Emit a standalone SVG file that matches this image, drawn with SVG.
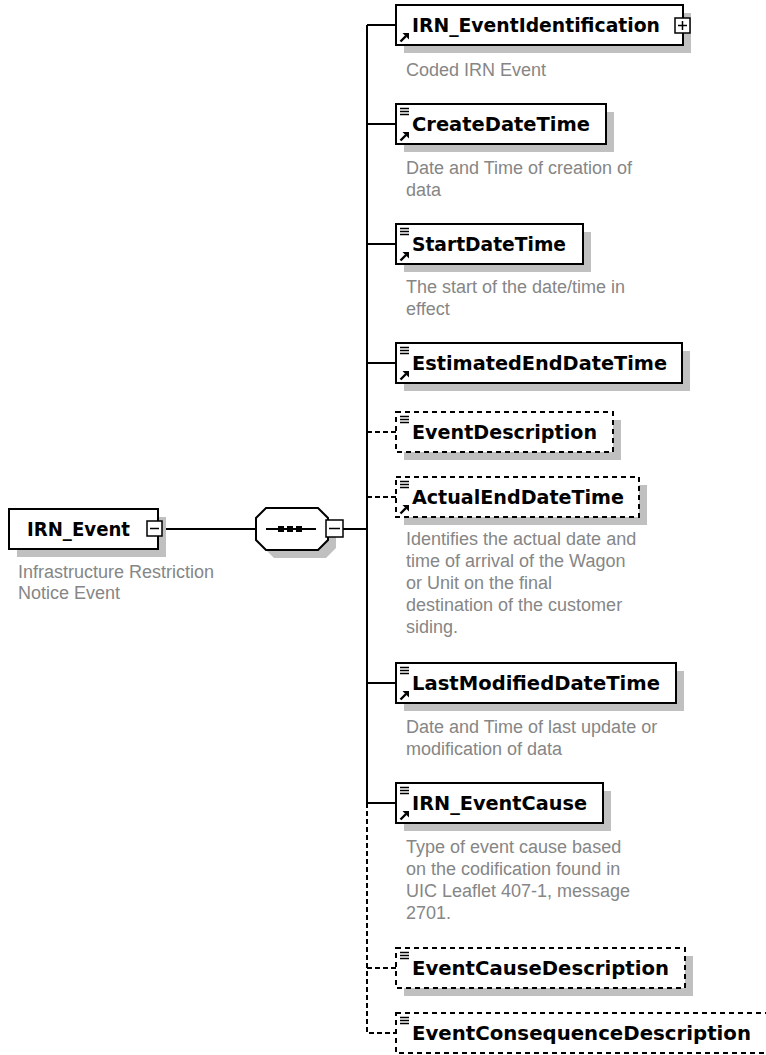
<svg xmlns="http://www.w3.org/2000/svg" xmlns:xlink="http://www.w3.org/1999/xlink" width="766" height="1055" viewBox="0 0 766 1055">
<style>
.box{fill:#fff;stroke:#000;stroke-width:2}
.dbox{fill:#fff;stroke:#000;stroke-width:2;stroke-dasharray:5 4}
.shadow{fill:#c0c0c0}
.name{font-family:"DejaVu Sans",Verdana,sans-serif;font-weight:bold;font-size:20px;fill:#000}
.desc{font-family:"Liberation Sans",Arial,sans-serif;font-size:18px;fill:#868686}
.line{stroke:#000;stroke-width:2;fill:none}
.dline{stroke:#000;stroke-width:2;fill:none;stroke-dasharray:5 3}
.btn{fill:#fff;stroke:#000;stroke-width:1.5}
.sym{stroke:#000;stroke-width:1.5;fill:none}
</style>
<defs>
<g id="lines"><path d="M4 4.5h9M4 7.5h9M4 10.5h9" stroke="#000" stroke-width="1.4" fill="none"/></g>
<g id="ref"><path d="M4.5 -3.5L10 -9" stroke="#000" stroke-width="2.4" fill="none"/><polygon points="13,-12 6.5,-12 13,-5.5" fill="#000"/></g>
</defs>

<g id="connectors">
<path class="line" d="M162 529H256"/>
<path class="line" d="M343 529H367"/>
<path class="line" d="M367 25V803"/>
<path class="line" d="M367 25H396M367 124H396M367 244H396M367 363H396M367 683H396M367 803H396"/>
<path class="dline" d="M367 432H396M367 497H396M367 968H396"/>
<path class="dline" d="M367 803V1033H396"/>
</g>

<g id="IRN_Event">
<rect class="shadow" x="17" y="517" width="149" height="40"/>
<rect class="box" x="9" y="509" width="149" height="40"/>
<text class="name" x="27" y="536" textLength="103" lengthAdjust="spacingAndGlyphs">IRN_Event</text>
<rect class="btn" x="147" y="521" width="15" height="15"/>
<path class="sym" d="M150 528.5h9"/>
<text class="desc" x="18" y="578">Infrastructure Restriction</text>
<text class="desc" x="18" y="599">Notice Event</text>
</g>

<g id="sequence">
<polygon class="shadow" points="274,516 326,516 336,526 336,548 326,558 274,558 264,548 264,526"/>
<polygon class="box" points="266,508 318,508 328,518 328,540 318,550 266,550 256,540 256,518"/>
<path class="line" d="M266 529H316"/>
<rect x="278" y="526" width="6" height="6"/>
<rect x="287" y="526" width="6" height="6"/>
<rect x="296" y="526" width="6" height="6"/>
<rect class="btn" x="326" y="520" width="17" height="17"/>
<path class="sym" d="M329 528.5h11"/>
</g>

<g id="IRN_EventIdentification">
<rect class="shadow" x="404" y="13" width="287" height="40"/>
<rect class="box" x="396" y="5" width="287" height="40"/>
<use xlink:href="#ref" x="396" y="45"/>
<text class="name" x="412" y="32" textLength="248" lengthAdjust="spacingAndGlyphs">IRN_EventIdentification</text>
<rect class="btn" x="675" y="18" width="15" height="15"/>
<path class="sym" d="M678 25.5h9M682.5 21v9"/>
<text class="desc" x="406" y="76">Coded IRN Event</text>
</g>

<g id="CreateDateTime">
<rect class="shadow" x="404" y="112" width="210" height="40"/>
<rect class="box" x="396" y="104" width="210" height="40"/>
<use xlink:href="#lines" x="396" y="104"/>
<use xlink:href="#ref" x="396" y="144"/>
<text class="name" x="412" y="131" textLength="178" lengthAdjust="spacingAndGlyphs">CreateDateTime</text>
<text class="desc" x="406" y="174">Date and Time of creation of</text>
<text class="desc" x="406" y="196">data</text>
</g>

<g id="StartDateTime">
<rect class="shadow" x="404" y="232" width="187" height="40"/>
<rect class="box" x="396" y="224" width="187" height="40"/>
<use xlink:href="#lines" x="396" y="224"/>
<use xlink:href="#ref" x="396" y="264"/>
<text class="name" x="412" y="251" textLength="154" lengthAdjust="spacingAndGlyphs">StartDateTime</text>
<text class="desc" x="406" y="293">The start of the date/time in</text>
<text class="desc" x="406" y="315">effect</text>
</g>

<g id="EstimatedEndDateTime">
<rect class="shadow" x="404" y="351" width="286" height="40"/>
<rect class="box" x="396" y="343" width="286" height="40"/>
<use xlink:href="#lines" x="396" y="343"/>
<use xlink:href="#ref" x="396" y="383"/>
<text class="name" x="412" y="370" textLength="255" lengthAdjust="spacingAndGlyphs">EstimatedEndDateTime</text>
</g>

<g id="EventDescription">
<rect class="shadow" x="404" y="420" width="217" height="40"/>
<rect class="dbox" x="396" y="412" width="217" height="40"/>
<use xlink:href="#lines" x="396" y="412"/>
<text class="name" x="412" y="439" textLength="185" lengthAdjust="spacingAndGlyphs">EventDescription</text>
</g>

<g id="ActualEndDateTime">
<rect class="shadow" x="404" y="485" width="243" height="40"/>
<rect class="dbox" x="396" y="477" width="243" height="40"/>
<use xlink:href="#lines" x="396" y="477"/>
<use xlink:href="#ref" x="396" y="517"/>
<text class="name" x="412" y="504" textLength="212" lengthAdjust="spacingAndGlyphs">ActualEndDateTime</text>
<text class="desc" x="406" y="545">Identifies the actual date and</text>
<text class="desc" x="406" y="567">time of arrival of the Wagon</text>
<text class="desc" x="406" y="589">or Unit on the final</text>
<text class="desc" x="406" y="611">destination of the customer</text>
<text class="desc" x="406" y="633">siding.</text>
</g>

<g id="LastModifiedDateTime">
<rect class="shadow" x="404" y="671" width="280" height="40"/>
<rect class="box" x="396" y="663" width="280" height="40"/>
<use xlink:href="#lines" x="396" y="663"/>
<use xlink:href="#ref" x="396" y="703"/>
<text class="name" x="412" y="690" textLength="248" lengthAdjust="spacingAndGlyphs">LastModifiedDateTime</text>
<text class="desc" x="406" y="733">Date and Time of last update or</text>
<text class="desc" x="406" y="755">modification of data</text>
</g>

<g id="IRN_EventCause">
<rect class="shadow" x="404" y="791" width="207" height="40"/>
<rect class="box" x="396" y="783" width="207" height="40"/>
<use xlink:href="#lines" x="396" y="783"/>
<use xlink:href="#ref" x="396" y="823"/>
<text class="name" x="412" y="810" textLength="175" lengthAdjust="spacingAndGlyphs">IRN_EventCause</text>
<text class="desc" x="406" y="853">Type of event cause based</text>
<text class="desc" x="406" y="875">on the codification found  in</text>
<text class="desc" x="406" y="897">UIC Leaflet 407-1, message</text>
<text class="desc" x="406" y="919">2701.</text>
</g>

<g id="EventCauseDescription">
<rect class="shadow" x="404" y="956" width="289" height="40"/>
<rect class="dbox" x="396" y="948" width="289" height="40"/>
<use xlink:href="#lines" x="396" y="948"/>
<text class="name" x="412" y="975" textLength="257" lengthAdjust="spacingAndGlyphs">EventCauseDescription</text>
</g>

<g id="EventConsequenceDescription">
<rect class="dbox" x="396" y="1013" width="380" height="40"/>
<use xlink:href="#lines" x="396" y="1013"/>
<text class="name" x="412" y="1040" textLength="339" lengthAdjust="spacingAndGlyphs">EventConsequenceDescription</text>
</g>
</svg>
